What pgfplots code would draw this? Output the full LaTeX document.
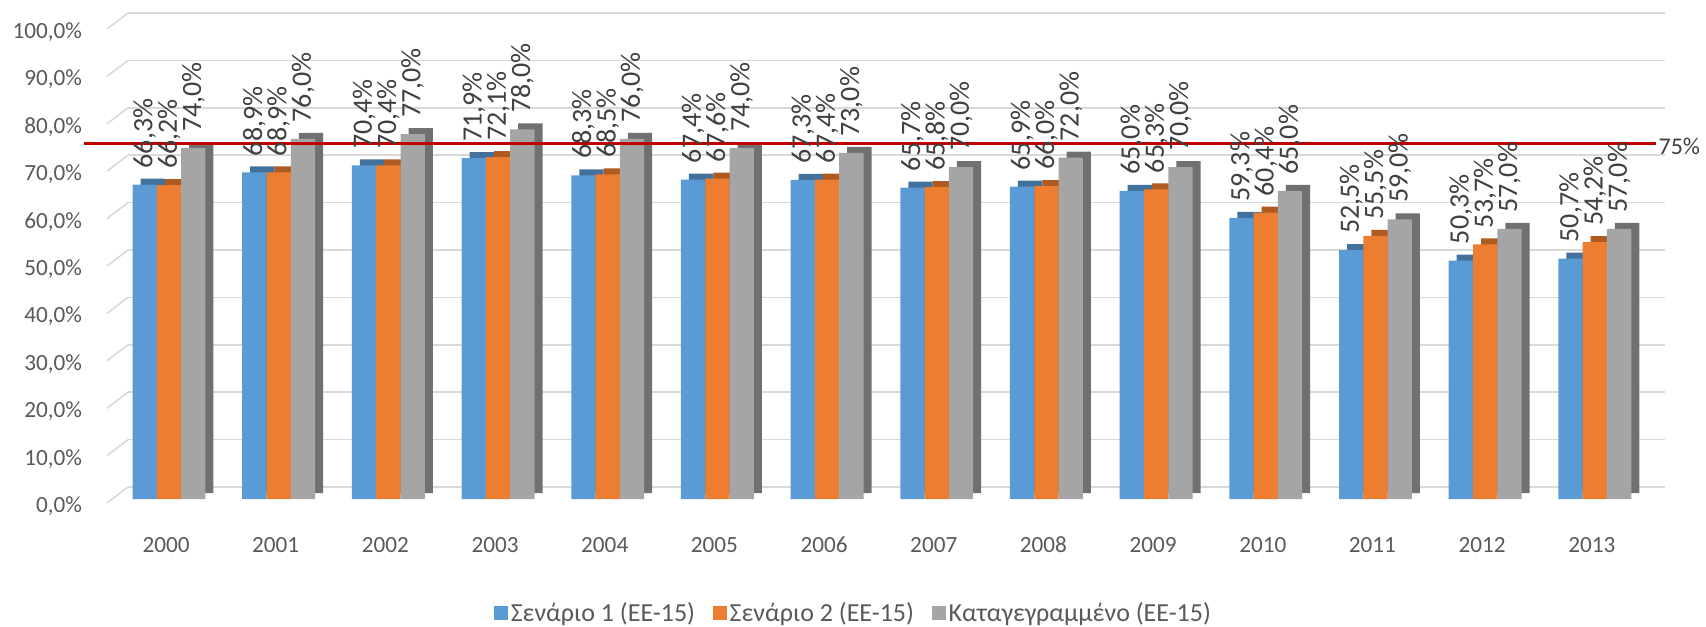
\documentclass[border=0pt]{standalone}
\usepackage{pgfplots}
\pgfplotsset{compat=1.18}
\usepackage{pgfplotstable}
\usepackage{fontspec}
\setmainfont{Carlito}
\definecolor{c1}{HTML}{5B9BD5}
\definecolor{c1d}{HTML}{41719C}
\definecolor{c2}{HTML}{ED7D31}
\definecolor{c2d}{HTML}{AE5A21}
\definecolor{c3}{HTML}{A5A5A5}
\definecolor{c3d}{HTML}{707070}
\definecolor{txt}{HTML}{595959}
\definecolor{lbl}{HTML}{404040}
\definecolor{gridc}{HTML}{D9D9D9}
\definecolor{redl}{HTML}{C00000}

\pgfplotstableread{
x s1 s2 rec
0 66.3 66.2 74.0
1 68.9 68.9 76.0
2 70.4 70.4 77.0
3 71.9 72.1 78.0
4 68.3 68.5 76.0
5 67.4 67.6 74.0
6 67.3 67.4 73.0
7 65.7 65.8 70.0
8 65.9 66.0 72.0
9 65.0 65.3 70.0
10 59.3 60.4 65.0
11 52.5 55.5 59.0
12 50.3 53.7 57.0
13 50.7 54.2 57.0
}\data

\pgfplotsset{
  front/.style n args={2}{ybar, bar width=12.15pt, bar shift=#2, draw=none, fill=#1,
    nodes near coords={\rotatebox{90}{\pgfmathprintnumber[fixed,fixed zerofill,precision=1,use comma]{\pgfplotspointmeta}\%}},
    every node near coord/.append style={anchor=south, inner ysep=8pt, inner xsep=0pt, xshift=#2,
      font=\fontsize{14}{16}\selectfont, text=lbl},
    legend image code/.code={\fill[fill=#1] (0pt,-3.4pt) rectangle (6.8pt,3.4pt);}},
  back/.style n args={2}{ybar, bar width=12.15pt, bar shift=#2, draw=none, fill=#1, forget plot, xshift=4pt, yshift=3pt},
}

\begin{document}
\begin{tikzpicture}
\begin{axis}[
  scale only axis, width=768.5pt, height=237pt,
  xmin=-0.374, xmax=13.64, ymin=0, ymax=100,
  axis line style={draw=none},
  major tick length=0pt,
  xtick=data,
  xticklabels={2000,2001,2002,2003,2004,2005,2006,2007,2008,2009,2010,2011,2012,2013},
  ytick={0,10,...,100},
  /pgf/number format/assume math mode=true,
  yticklabel={\pgfmathprintnumber[fixed,fixed zerofill,precision=1,use comma]{\tick}\%},
  tick label style={font=\fontsize{11.6}{13}\selectfont, text=txt},
  yticklabel style={xshift=-19.5pt, yshift=-3.5pt},
  xticklabel style={yshift=-15.5pt, xshift=-1.5pt},
  ymajorgrids, grid style={draw=gridc, line width=0.8pt, yshift=6pt},
  clip=false,
  legend columns=3,
  legend style={draw=none, at={(0.4724,-0.2405)}, anchor=center,
    font=\fontsize{13}{15}\selectfont, text=txt,
    /tikz/every even column/.append style={column sep=7.5pt},
    inner ysep=0pt,
    nodes={inner xsep=1.5pt, inner ysep=0pt}},
]
\pgfplotsinvokeforeach{0,10,...,100}{
  \draw[gridc, line width=0.8pt] ([xshift=-10.5pt,yshift=-2pt]axis cs:-0.374,#1) -- ([yshift=6pt]axis cs:-0.374,#1);
}
\addplot[back={c1d}{-12.15pt}] table[x=x,y=s1] {\data};
\addplot[front={c1}{-12.15pt}] table[x=x,y=s1] {\data};
\addlegendentry{Σενάριο 1 (ΕΕ-15)}
\addplot[back={c2d}{0pt}] table[x=x,y=s2] {\data};
\addplot[front={c2}{0pt}] table[x=x,y=s2] {\data};
\addlegendentry{Σενάριο 2 (ΕΕ-15)}
\addplot[back={c3d}{12.15pt}] table[x=x,y=rec] {\data};
\addplot[front={c3}{12.15pt}] table[x=x,y=rec] {\data};
\addlegendentry{Καταγεγραμμένο (ΕΕ-15)}
\addplot[draw=redl, line width=1.5pt, forget plot] coordinates {(-0.775,75) (13.56,75)};
\node[anchor=west, font=\fontsize{12}{14}\selectfont, text=lbl, inner sep=1pt, yshift=-1.5pt] at (axis cs:13.56,75) {75\%};
\end{axis}
\pgfresetboundingbox
\path (current axis.south west) ++(-64pt,-63.5pt) rectangle ++(853pt,313pt);
\end{tikzpicture}
\end{document}
